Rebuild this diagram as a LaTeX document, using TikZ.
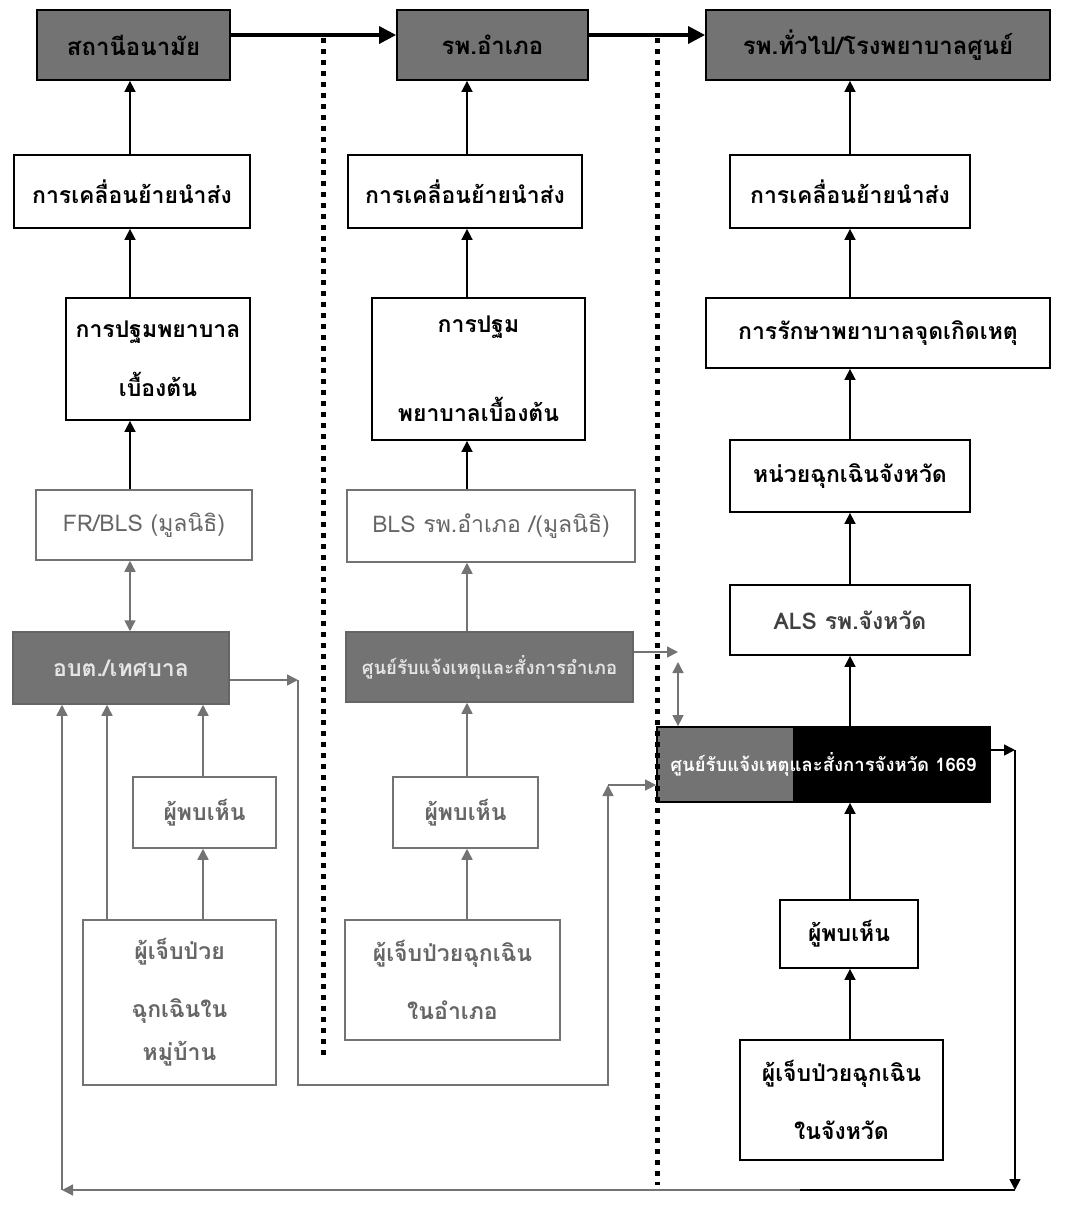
\documentclass[tikz,border=0pt]{standalone}
\usepackage{fontspec}
\newfontfamily\thai[Script=Thai]{Loma}
\usetikzlibrary{arrows.meta,calc}
\begin{document}
\begin{tikzpicture}[x=1pt,y=-1pt,
  base/.style={rectangle, align=center, inner sep=2pt, font=\thai\bfseries\fontsize{23}{27}\selectfont},
  small/.style={font=\thai\bfseries\fontsize{18.5}{22}\selectfont},
  big/.style={font=\thai\bfseries\fontsize{24}{28}\selectfont},
  bbox/.style={base, draw=black, line width=1.8pt, text=black},
  gbox/.style={base, draw=black!55, line width=1.5pt, text=black!60},
  dbox/.style={base, big, draw=black, line width=1.8pt, fill=black!55, text=black},
  mbox/.style={base, draw=black!60, line width=1.5pt, fill=black!55, text=black!10},
  tip/.tip={Triangle[length=11pt,width=11pt]},
  arr/.style={line width=1.7pt, -tip},
  garr/.style={line width=1.5pt, color=black!55, -tip},
  gdarr/.style={line width=1.5pt, color=black!55, tip-tip},
  toparr/.style={line width=3.4pt, -{Triangle[length=17pt,width=17pt]}},
  dots/.style={line width=5pt, dash pattern=on 5pt off 6pt},
]
\useasboundingbox[fill=white] (0,0) rectangle (1070,1211);

% ---------- top row
\node[dbox, minimum width=193, minimum height=70] (top1) at (133.5,45) {สถานีอนามัย};
\node[dbox, minimum width=191, minimum height=70] (top2) at (492.5,45) {รพ.อำเภอ};
\node[dbox, minimum width=344, minimum height=70] (top3) at (878,45) {รพ.ทั่วไป/โรงพยาบาลศูนย์};

% ---------- column 1
\node[bbox, minimum width=236, minimum height=73] (mv1) at (132,191.5) {การเคลื่อนย้ายนำส่ง};
\node[bbox, minimum width=184, minimum height=122] (fa1) at (158,359) {การปฐมพยาบาล\\[28pt]เบื้องต้น};
\node[gbox, minimum width=216, minimum height=70] (fr1) at (144,525) {\mdseries FR/BLS (มูลนิธิ)};
\node[mbox, minimum width=216, minimum height=72] (dk1) at (121,668) {อบต./เทศบาล};
\node[gbox, minimum width=143, minimum height=71] (wit1) at (204.5,812.5) {ผู้พบเห็น};
\node[gbox, minimum width=193, minimum height=165] (pat1) at (179.5,1002.5) {ผู้เจ็บป่วย\\[31pt]ฉุกเฉินใน\\[16pt]หมู่บ้าน};

% ---------- column 2
\node[bbox, minimum width=234, minimum height=73] (mv2) at (465,191.5) {การเคลื่อนย้ายนำส่ง};
\node[bbox, minimum width=213, minimum height=142] (fa2) at (478.5,369) {การปฐม\\[58pt]พยาบาลเบื้องต้น};
\node[gbox, minimum width=288, minimum height=72] (bls2) at (491,526) {\mdseries BLS รพ.อำเภอ /(มูลนิธิ)};
\node[mbox, small, minimum width=287, minimum height=70] (dk2) at (489.5,667) {ศูนย์รับแจ้งเหตุและสั่งการอำเภอ};
\node[gbox, minimum width=145, minimum height=71] (wit2) at (465.5,812.5) {ผู้พบเห็น};
\node[gbox, minimum width=215, minimum height=120] (pat2) at (452.5,980) {ผู้เจ็บป่วยฉุกเฉิน\\[31pt]ในอำเภอ};

% ---------- column 3
\node[bbox, minimum width=240, minimum height=73] (mv3) at (850,191.5) {การเคลื่อนย้ายนำส่ง};
\node[bbox, minimum width=344, minimum height=70] (tr3) at (878,333) {การรักษาพยาบาลจุดเกิดเหตุ};
\node[bbox, minimum width=240, minimum height=72] (unit3) at (850,476) {หน่วยฉุกเฉินจังหวัด};
\node[bbox, minimum width=240, minimum height=70, text=black!75] (als3) at (850,620) {ALS รพ.จังหวัด};
\node[base, small, draw=black, line width=1.8pt, text=white, minimum width=333, minimum height=75,
  path picture={
    \fill[black!55] (path picture bounding box.south west) rectangle ([xshift=136pt]path picture bounding box.north west);
    \fill[black] ([xshift=136pt]path picture bounding box.south west) rectangle (path picture bounding box.north east);
  }] (c1669) at (823.5,764.5) {ศูนย์รับแจ้งเหตุและสั่งการจังหวัด 1669};
\node[bbox, minimum width=138, minimum height=68] (wit3) at (849,934) {ผู้พบเห็น};
\node[bbox, minimum width=203, minimum height=120] (pat3) at (841.5,1100) {ผู้เจ็บป่วยฉุกเฉิน\\[31pt]ในจังหวัด};

% ---------- dotted separators
\coordinate (d1a) at (323,38);
\coordinate (d1b) at (323,1060);
\coordinate (d2a) at (657,38);
\coordinate (d2b) at (657,1185);
\draw[dots] (d1a) -- (d1b);
\draw[dots] (d2a) -- (d2b);

% ---------- top arrows
\coordinate (ty) at (0,35);
\draw[toparr] (top1.east |- ty) -- (top2.west |- ty);
\draw[toparr] (top2.east |- ty) -- (top3.west |- ty);

% ---------- column 1 arrows
\coordinate (x130) at (130,0);
\coordinate (x203) at (203,0);
\coordinate (x107) at (107,0);
\draw[arr] (mv1.north -| x130) -- (top1.south -| x130);
\draw[arr] (fa1.north -| x130) -- (mv1.south -| x130);
\draw[arr] (fr1.north -| x130) -- (fa1.south -| x130);
\draw[gdarr] (dk1.north -| x130) -- (fr1.south -| x130);
\draw[garr] (wit1.north -| x203) -- (dk1.south -| x203);
\draw[garr] (pat1.north -| x203) -- (wit1.south -| x203);
\draw[garr] (pat1.north -| x107) -- (dk1.south -| x107);

% ---------- column 2 arrows
\coordinate (x467) at (467,0);
\draw[arr] (mv2.north -| x467) -- (top2.south -| x467);
\draw[arr] (fa2.north -| x467) -- (mv2.south -| x467);
\draw[arr] (bls2.north -| x467) -- (fa2.south -| x467);
\draw[garr] (dk2.north -| x467) -- (bls2.south -| x467);
\draw[garr] (wit2.north -| x467) -- (dk2.south -| x467);
\draw[garr] (pat2.north -| x467) -- (wit2.south -| x467);

% ---------- column 3 arrows
\coordinate (x850) at (850,0);
\draw[arr] (mv3.north -| x850) -- (top3.south -| x850);
\draw[arr] (tr3.north -| x850) -- (mv3.south -| x850);
\draw[arr] (unit3.north -| x850) -- (tr3.south -| x850);
\draw[arr] (als3.north -| x850) -- (unit3.south -| x850);
\draw[arr] (c1669.north -| x850) -- (als3.south -| x850);
\draw[arr] (wit3.north -| x850) -- (c1669.south -| x850);
\draw[arr] (pat3.north -| x850) -- (wit3.south -| x850);

% ---------- route from column 1 to provincial centre
\coordinate (c298) at (298,680);
\coordinate (c298b) at (298,1085);
\coordinate (c608b) at (608,1085);
\coordinate (c608t) at (608,785);
\draw[garr] (dk1.east |- c298) -- (c298);
\draw[garr] (c298) -- (c298b) -- (c608b) -- (c608t);
\draw[garr] (c608t) -- (c1669.west |- c608t);

% ---------- route from column 2 to provincial centre
\coordinate (c678) at (678,652);
\coordinate (c678b) at (678,662);
\draw[garr] (dk2.east |- c678) -- (c678);
\draw[gdarr] (c678b) -- (c1669.north -| c678b);

% ---------- return loop
\coordinate (rr) at (1015,750);
\coordinate (br) at (1015,1190);
\coordinate (bm) at (800,1190);
\coordinate (bl) at (62,1190);
\draw[arr] (c1669.east |- rr) -- (rr);
\draw[arr] (rr) -- (br);
\draw[line width=1.6pt] (br) -- (bm);
\draw[garr] (bm) -- (bl);
\draw[garr] (bl) -- (dk1.south -| bl);
\end{tikzpicture}
\end{document}
